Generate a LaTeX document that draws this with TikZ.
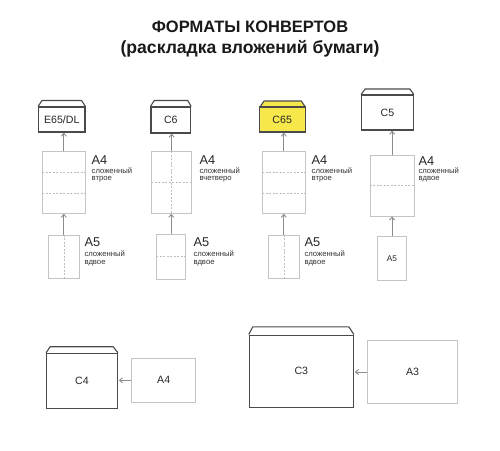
\documentclass[tikz,border=0pt]{standalone}
\usepackage{fontspec}
\setmainfont{Liberation Sans}
\usetikzlibrary{arrows.meta}
\definecolor{envc}{HTML}{4A4A4A}
\definecolor{paperc}{HTML}{C4C4C4}
\definecolor{foldc}{HTML}{BDBDBD}
\definecolor{arrc}{HTML}{8C8C8C}
\definecolor{yel}{HTML}{F6E84A}
\begin{document}
\begin{tikzpicture}[x=1pt,y=-1pt,
  env/.style={draw=envc,line width=1.1pt,rectangle,inner sep=0pt,font=\fontsize{10.6}{11}\selectfont,text=black!85},
  flap/.style={draw=envc,line width=1.1pt,line join=round},
  paper/.style={draw=paperc,line width=0.8pt,rectangle,inner sep=0pt,font=\fontsize{10.6}{11}\selectfont,text=black!85},
  fold/.style={draw=foldc,line width=0.6pt,dash pattern=on 2pt off 1.5pt},
  arr/.style={draw=arrc,line width=0.9pt,-{Straight Barb[length=3pt,width=5pt]}},
  big/.style={anchor=base west,inner sep=0pt,font=\fontsize{12.8}{13}\selectfont,text=black!85},
  small/.style={anchor=base west,inner sep=0pt,font=\fontsize{7.7}{8}\selectfont,text=black!80},
  ttl/.style={inner sep=0pt,anchor=base,font=\bfseries\fontsize{16.5}{17}\selectfont,text=black!90}]
\useasboundingbox (0,0) rectangle (500,450);
\fill[white] (0,0) rectangle (500,450);
% title
\node[ttl] (t1) at (250,32) {ФОРМАТЫ КОНВЕРТОВ};
\node[ttl,font=\bfseries\fontsize{17.6}{18}\selectfont] (t2) at (250,53) {(раскладка вложений бумаги)};
% column 1
\node[env,minimum width=46.3pt,minimum height=25pt] (e1) at (61.8,119.5) {E65/DL};
\draw[flap] (e1.north west) -- ++(4,-6) -- ([xshift=-4pt,yshift=6pt]e1.north east) -- (e1.north east);
\node[paper,minimum width=42.3pt,minimum height=61.6pt] (p1) at (63.8,182.5) {};
\draw[fold] ([yshift=-20.5pt]p1.north west) -- ([yshift=-20.5pt]p1.north east);
\draw[fold] ([yshift=20.5pt]p1.south west) -- ([yshift=20.5pt]p1.south east);
\node[paper,minimum width=31pt,minimum height=43.3pt] (q1) at (63.8,256.7) {};
\draw[fold] (q1.north) -- (q1.south);
\draw[arr] (p1.north) -- (p1.north |- e1.south);
\draw[arr] (q1.north) -- (q1.north |- p1.south);
\node[big] (la1) at (91.5,164) {A4};
\node[small] (lb1) at (91.5,173.2) {сложенный};
\node[small] (lc1) at (91.5,180.7) {втрое};
\node[big] (ld1) at (84.3,246.5) {A5};
\node[small] (le1) at (84.3,256.5) {сложенный};
\node[small] (lf1) at (84.3,264) {вдвое};
% column 2
\node[env,minimum width=39.7pt,minimum height=26pt] (e2) at (170.8,120) {C6};
\draw[flap] (e2.north west) -- ++(4,-6) -- ([xshift=-3.5pt,yshift=6pt]e2.north east) -- (e2.north east);
\node[paper,minimum width=40pt,minimum height=61.6pt] (p2) at (171.7,182.5) {};
\draw[fold] (p2.west) -- (p2.east);
\draw[fold] (p2.north) -- (p2.south);
\node[paper,minimum width=29pt,minimum height=45pt] (q2) at (171.2,256.5) {};
\draw[fold] (q2.west) -- (q2.east);
\draw[arr] (p2.north) -- (p2.north |- e2.south);
\draw[arr] (q2.north) -- (q2.north |- p2.south);
\node[big] (la2) at (199.3,164) {A4};
\node[small] (lb2) at (199.3,173.2) {сложенный};
\node[small] (lc2) at (199.3,180.7) {вчетверо};
\node[big] (ld2) at (193.3,246.5) {A5};
\node[small] (le2) at (193.3,256.5) {сложенный};
\node[small] (lf2) at (193.3,264) {вдвое};
% column 3
\filldraw[flap,fill=yel] (260,107) -- ++(4,-6) -- (301.3,101) -- ++(4,6) -- cycle;
\node[env,fill=yel,minimum width=45.7pt,minimum height=25pt] (e3) at (282.2,119.5) {C65};
\node[paper,minimum width=42.3pt,minimum height=61.6pt] (p3) at (283.8,182.5) {};
\draw[fold] ([yshift=-20.5pt]p3.north west) -- ([yshift=-20.5pt]p3.north east);
\draw[fold] ([yshift=20.5pt]p3.south west) -- ([yshift=20.5pt]p3.south east);
\node[paper,minimum width=31pt,minimum height=43.3pt] (q3) at (283.8,256.7) {};
\draw[fold] (q3.north) -- (q3.south);
\draw[arr] (p3.north) -- (p3.north |- e3.south);
\draw[arr] (q3.north) -- (q3.north |- p3.south);
\node[big] (la3) at (311.5,164) {A4};
\node[small] (lb3) at (311.5,173.2) {сложенный};
\node[small] (lc3) at (311.5,180.7) {втрое};
\node[big] (ld3) at (304.3,246.5) {A5};
\node[small] (le3) at (304.3,256.5) {сложенный};
\node[small] (lf3) at (304.3,264) {вдвое};
% column 4
\node[env,minimum width=51.6pt,minimum height=35pt] (e4) at (387.5,112.5) {C5};
\draw[flap] (e4.north west) -- ++(4,-5.5) -- ([xshift=-4pt,yshift=5.5pt]e4.north east) -- (e4.north east);
\node[paper,minimum width=44.3pt,minimum height=61pt] (p4) at (392.2,185.5) {};
\draw[fold] (p4.west) -- (p4.east);
\node[paper,minimum width=29.4pt,minimum height=43.3pt,font=\fontsize{8.3}{9}\selectfont] (q4) at (392,258.3) {A5};
\draw[arr] (p4.north) -- (p4.north |- e4.south);
\draw[arr] (q4.north) -- (q4.north |- p4.south);
\node[big] (la4) at (418.3,165) {A4};
\node[small] (lb4) at (418.3,173.2) {сложенный};
\node[small] (lc4) at (418.3,180.7) {вдвое};
% row 2
\node[env,minimum width=70.6pt,minimum height=55pt] (e5) at (82,380.8) {C4};
\draw[flap] (e5.north west) -- ++(4,-6) -- ([xshift=-4.6pt,yshift=6pt]e5.north east) -- (e5.north east);
\node[paper,minimum width=64pt,minimum height=44pt] (p5) at (163.7,380.3) {A4};
\draw[arr] (p5.west) -- ([xshift=1pt]p5.west -| e5.east);
\node[env,minimum width=104pt,minimum height=72.3pt] (e6) at (301.3,371.2) {C3};
\draw[flap] (e6.north west) -- ++(4,-7.7) -- ([xshift=-5pt,yshift=7.7pt]e6.north east) -- (e6.north east);
\node[paper,minimum width=89.6pt,minimum height=62.6pt] (p6) at (412.5,372) {A3};
\draw[arr] (p6.west) -- ([xshift=1pt]p6.west -| e6.east);
\end{tikzpicture}
\end{document}
